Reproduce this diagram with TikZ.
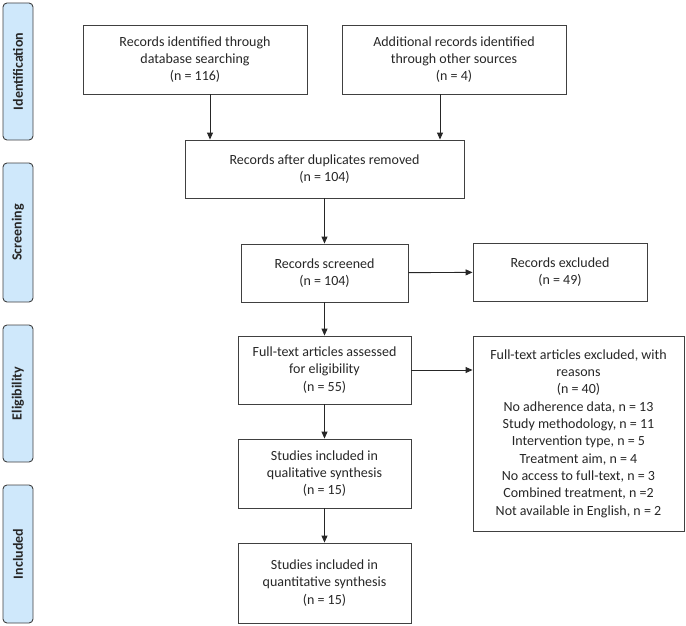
\documentclass[tikz,border=0pt]{standalone}
\usepackage{fontspec}
\setmainfont{Carlito}
\usetikzlibrary{positioning, arrows.meta}
\definecolor{phasefill}{HTML}{CFE8FB}
\definecolor{boxline}{HTML}{404040}

\begin{document}
\begin{tikzpicture}[
    x=1pt, y=-1pt,
    font=\fontsize{14}{17.3}\selectfont,
    >={Triangle[length=7pt, width=6pt]},
    stage/.style={rectangle, draw=boxline, line width=0.9pt, align=center,
        text=black!85, inner sep=3pt},
    phase/.style={rectangle, rounded corners=4pt, draw=boxline, line width=0.9pt,
        fill=phasefill, rotate=90, minimum height=30pt, font=\bfseries\fontsize{14}{16}\selectfont,
        text=black!85},
    flow/.style={->, line width=0.9pt, black!85},
]
\useasboundingbox (0,0) rectangle (686,626);

% ---- Phase labels on the left ----
\node[phase, minimum width=137pt] (ident) at (18,71.5) {Identification};
\node[phase, minimum width=139pt] (screen) at (18,232.5) {Screening};
\node[phase, minimum width=137pt] (elig) at (18,393.5) {Eligibility};
\node[phase, minimum width=138pt] (incl) at (18,554) {Included};

% ---- Identification ----
\node[stage, minimum width=224pt, minimum height=69pt] (dbsearch) at (195,59.5)
    {Records identified through\\ database searching\\ (n = 116)};
\node[stage, minimum width=224pt, minimum height=69pt] (other) at (454,59.5)
    {Additional records identified\\ through other sources\\ (n = 4)};

% ---- Screening ----
\node[stage, minimum width=279pt, minimum height=58pt] (dups) at (324.5,169)
    {Records after duplicates removed\\ (n = 104)};
\node[stage, minimum width=167pt, minimum height=58pt] (screened) at (324.5,273)
    {Records screened\\ (n = 104)};
\node[stage, minimum width=174pt, minimum height=58pt] (recexcl) at (560,272)
    {Records excluded\\ (n = 49)};

% ---- Eligibility ----
\node[stage, minimum width=173pt, minimum height=68pt] (fulltext) at (324.5,370)
    {Full-text articles assessed\\ for eligibility\\ (n = 55)};
\node[stage, minimum width=211pt, minimum height=195pt] (ftexcl) at (578.5,433.5)
    {Full-text articles excluded, with\\ reasons\\ (n = 40)\\
     No adherence data, n = 13\\ Study methodology, n = 11\\
     Intervention type, n = 5\\ Treatment aim, n = 4\\
     No access to full-text, n = 3\\ Combined treatment, n =2\\
     Not available in English, n = 2};

% ---- Included ----
\node[stage, minimum width=173pt, minimum height=69pt] (qual) at (324.5,473.5)
    {Studies included in\\ qualitative synthesis\\ (n = 15)};
\node[stage, minimum width=173pt, minimum height=80pt] (quant) at (324.5,583)
    {Studies included in\\ quantitative synthesis\\ (n = 15)};

% ---- Arrows ----
\draw[flow] ([xshift=15pt]dbsearch.south) -- ([xshift=15pt]dbsearch.south |- dups.north);
\draw[flow] ([xshift=-14pt]other.south) -- ([xshift=-14pt]other.south |- dups.north);
\draw[flow] (dups) -- (screened);
\draw[flow] (screened) -- (recexcl);
\draw[flow] (screened) -- (fulltext);
\draw[flow] (fulltext.east) -- (fulltext.east -| ftexcl.west);
\draw[flow] (fulltext) -- (qual);
\draw[flow] (qual) -- (quant);

\end{tikzpicture}
\end{document}
